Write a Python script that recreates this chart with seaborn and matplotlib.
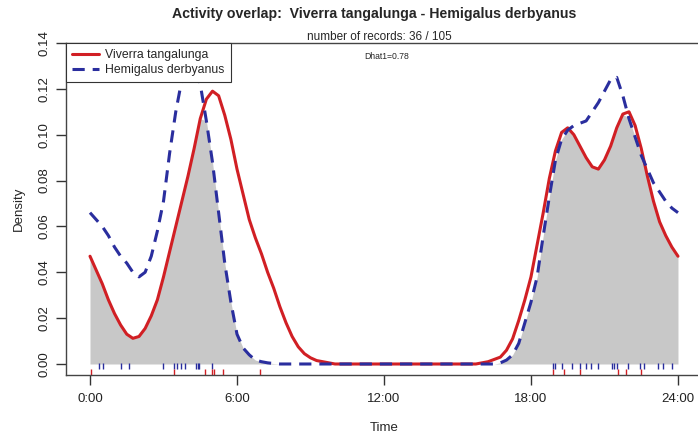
import numpy as np
import pandas as pd
import matplotlib
matplotlib.use('Agg')
import matplotlib.pyplot as plt
import seaborn as sns

# time grid (hours) shared by both density curves, step 0.25 h
hours = np.arange(0, 24.01, 0.25)

# Viverra tangalunga density (red, solid)
viverra = [
    0.047, 0.041, 0.035, 0.028, 0.022, 0.017, 0.013, 0.0112,
    0.012, 0.0155, 0.021, 0.028, 0.038, 0.049, 0.060, 0.071,
    0.082, 0.094, 0.107, 0.1155, 0.119, 0.117, 0.1085, 0.098,
    0.085, 0.074, 0.063, 0.055, 0.048, 0.040, 0.033, 0.025,
    0.018, 0.012, 0.0075, 0.0045, 0.0027, 0.0015, 0.001, 0.0005,
    0.0, 0.0, 0.0, 0.0, 0.0, 0.0, 0.0, 0.0,
    0.0, 0.0, 0.0, 0.0, 0.0, 0.0, 0.0, 0.0,
    0.0, 0.0, 0.0, 0.0, 0.0, 0.0, 0.0, 0.0,
    0.0005, 0.001, 0.002, 0.003, 0.006, 0.011, 0.019, 0.028,
    0.038, 0.052, 0.066, 0.081, 0.093, 0.101, 0.103, 0.100,
    0.095, 0.090, 0.086, 0.085, 0.089, 0.095, 0.103, 0.109,
    0.110, 0.104, 0.094, 0.082, 0.071, 0.062, 0.056, 0.051,
    0.047,
]

# Hemigalus derbyanus density (blue, dashed)
hemigalus = [
    0.066, 0.063, 0.060, 0.056, 0.051, 0.047, 0.044, 0.040,
    0.038, 0.040, 0.047, 0.058, 0.071, 0.092, 0.110, 0.124,
    0.131, 0.133, 0.122, 0.106, 0.088, 0.066, 0.044, 0.027,
    0.013, 0.007, 0.004, 0.0017, 0.001, 0.0005, 0.0002, 0.0,
    0.0, 0.0, 0.0, 0.0, 0.0, 0.0, 0.0, 0.0,
    0.0, 0.0, 0.0, 0.0, 0.0, 0.0, 0.0, 0.0,
    0.0, 0.0, 0.0, 0.0, 0.0, 0.0, 0.0, 0.0,
    0.0, 0.0, 0.0, 0.0, 0.0, 0.0, 0.0, 0.0,
    0.0, 0.0, 0.0, 0.0005, 0.0017, 0.004, 0.009, 0.018,
    0.027, 0.038, 0.056, 0.073, 0.089, 0.098, 0.102, 0.104,
    0.105, 0.106, 0.110, 0.114, 0.119, 0.124, 0.125, 0.117,
    0.107, 0.099, 0.091, 0.085, 0.079, 0.075, 0.071, 0.068,
    0.066,
]

# rug marks: record times (hours)
rug_viverra = [0.03, 3.44, 4.69, 4.99, 5.06, 5.44, 6.94,
               18.89, 19.35, 20.0, 21.56, 21.88, 22.49]
rug_hemigalus = [0.37, 0.54, 1.27, 1.60, 2.99, 3.44, 3.54, 3.70, 3.89,
                 4.33, 4.40, 4.46, 4.99,
                 18.91, 18.98, 19.25, 19.69, 20.0, 20.24, 20.44, 20.75,
                 21.32, 21.40, 21.50, 21.97, 22.45, 22.62, 23.2, 23.4, 23.74]

tick_hours = [0, 6, 12, 18, 24]
tick_labels = ['0:00', '6:00', '12:00', '18:00', '24:00']

RED = '#D11F24'
BLUE = '#2A2E9E'

sns.set_style('white')
plt.rcParams['font.family'] = ['Liberation Sans', 'DejaVu Sans']

df = pd.DataFrame({'Time': hours, 'viverra': viverra, 'hemigalus': hemigalus})

fig = plt.figure(figsize=(6.98, 4.38), dpi=100)
ax = fig.add_axes([66 / 698, 1 - 375 / 438, 635.5 / 698, 332 / 438])

# overlap area
ax.fill_between(df['Time'], 0, np.minimum(df['viverra'], df['hemigalus']),
                color='#C8C8C8', lw=0, zorder=1)

sns.lineplot(data=df, x='Time', y='viverra', ax=ax, color=RED, lw=2.2,
             label='Viverra tangalunga', zorder=3)
sns.lineplot(data=df, x='Time', y='hemigalus', ax=ax, color=BLUE, lw=2.2,
             label='Hemigalus derbyanus', zorder=4)
ax.lines[-1].set_linestyle((0, (4, 2.6)))

# rugs (axes fraction for height)
xt = ax.get_xaxis_transform()
ax.vlines(rug_hemigalus, 0.018, 0.036, color=BLUE, lw=1, transform=xt)
ax.vlines(rug_viverra, 0.0, 0.017, color=RED, lw=1, transform=xt)

ax.set_xlim(-0.98, 24.96)
ax.set_ylim(-0.0048, 0.1386)
ax.set_xticks(tick_hours)
ax.set_xticklabels(tick_labels)
ax.set_yticks(np.arange(0, 0.141, 0.02))
ax.set_yticklabels([f'{v:.2f}' for v in np.arange(0, 0.141, 0.02)])
ax.tick_params(axis='both', direction='out', length=7, width=1, color='#333333',
               labelsize=9.5, labelcolor='#222222', left=True, bottom=True)
ax.tick_params(axis='x', pad=6)
ax.tick_params(axis='y', labelrotation=90, pad=4)
for lab in ax.get_yticklabels():
    lab.set_va('center')
for s in ax.spines.values():
    s.set_color('#444444')
    s.set_linewidth(1)

ax.set_xlabel('Time', fontsize=9.5, labelpad=12)
ax.set_ylabel('Density', fontsize=9.5, labelpad=10)

leg = ax.legend(loc='upper left', borderaxespad=0, fancybox=False,
                edgecolor='#333333', framealpha=1, fontsize=8.8,
                handlelength=2.2, handletextpad=0.5, borderpad=0.5,
                labelspacing=0.22)
leg.get_frame().set_linewidth(0.8)
leg.set_zorder(10)

fig.text(374 / 698, 1 - 14 / 438,
         'Activity overlap:  Viverra tangalunga - Hemigalus derbyanus',
         ha='center', va='center', fontsize=10.2, weight='bold')
fig.text(379 / 698, 1 - 37 / 438, 'number of records: 36 / 105',
         ha='center', va='center', fontsize=8.5)
ax.text(12.1, 0.134, 'Dhat1=0.78', ha='center', va='center', fontsize=6.2)

fig.savefig('out.png', dpi=100)
